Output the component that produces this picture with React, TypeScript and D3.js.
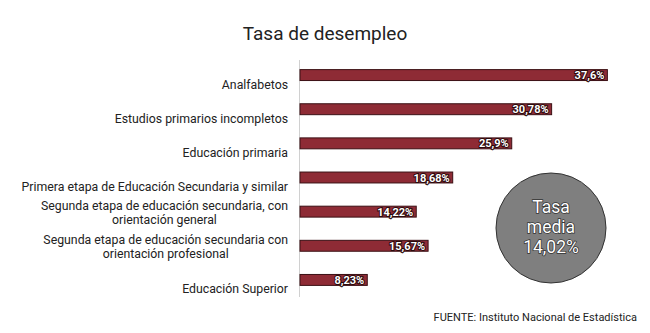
import React from "react";
import * as d3 from "d3";

const categories: string[][] = [
  ["Analfabetos"],
  ["Estudios primarios incompletos"],
  ["Educación primaria"],
  ["Primera etapa de Educación Secundaria y similar"],
  ["Segunda etapa de educación secundaria, con", "orientación general"],
  ["Segunda etapa de educación secundaria con", "orientación profesional"],
  ["Educación Superior"],
];
const values: number[] = [37.6, 30.78, 25.9, 18.68, 14.22, 15.67, 8.23];
const valueLabels: string[] = ["37,6%", "30,78%", "25,9%", "18,68%", "14,22%", "15,67%", "8,23%"];
const averageLines: string[] = ["Tasa", "media", "14,02%"];
const title = "Tasa de desempleo";
const source = "FUENTE: Instituto Nacional de Estadística";

const W = 650;
const H = 333;
const FONT = "Roboto, 'Noto Sans', sans-serif";
const LABEL_SIZE = 12.3;

function measure(text: string, size: number): number {
  if (typeof document === "undefined") return text.length * size * 0.5;
  const c = document.createElement("canvas");
  const ctx = c.getContext("2d");
  if (!ctx) return text.length * size * 0.5;
  ctx.font = `${size}px Roboto`;
  return ctx.measureText(text).width;
}

export default function App() {
  const x = d3.scaleLinear().domain([0, 40]).range([300, 627]);
  const y = d3
    .scaleBand<number>()
    .domain(d3.range(categories.length))
    .range([58, 297])
    .paddingInner(0.68)
    .paddingOuter(0.34);
  const bw = y.bandwidth();
  const labelRight = x(0) - 12;

  return (
    <div style={{ position: "absolute", left: 0, top: 0 }}>
      <svg width={W} height={H} style={{ display: "block", background: "#fff" }}>
        <text x={325} y={40} textAnchor="middle" fontFamily={FONT} fontSize={19} fill="#222">
          {title}
        </text>
        <line x1={x(0) - 0.5} x2={x(0) - 0.5} y1={60} y2={297} stroke="#d0d0d0" strokeWidth={1} />
        {values.map((v, i) => {
          const yy = y(i)!;
          const cy = yy + bw / 2;
          const lines = categories[i];
          const maxW = d3.max(lines, (l) => measure(l, LABEL_SIZE)) || 0;
          const mid = labelRight - maxW / 2;
          return (
            <g key={i}>
              <rect
                x={x(0)}
                y={yy}
                width={x(v) - x(0)}
                height={bw}
                fill="#8e2b35"
                stroke="#3b1014"
                strokeWidth={1}
              />
              <text
                x={x(v) - 3}
                y={cy + 4}
                textAnchor="end"
                fontFamily={FONT}
                fontWeight="bold"
                fontSize={11}
                fill="#fff"
                stroke="#2a0a0c"
                strokeWidth={2}
                paintOrder="stroke"
              >
                {valueLabels[i]}
              </text>
              {lines.length === 1 ? (
                <text x={labelRight} y={cy + 13.5} textAnchor="end" fontFamily={FONT} fontSize={LABEL_SIZE} fill="#222">
                  {lines[0]}
                </text>
              ) : (
                lines.map((l, j) => (
                  <text
                    key={j}
                    x={mid}
                    y={cy - 2 + j * 14}
                    textAnchor="middle"
                    fontFamily={FONT}
                    fontSize={LABEL_SIZE}
                    fill="#222"
                  >
                    {l}
                  </text>
                ))
              )}
            </g>
          );
        })}
        <circle cx={551} cy={228} r={55} fill="#7f7f7f" stroke="#333" strokeWidth={1} />
        {averageLines.map((t, i) => (
          <text
            key={i}
            x={551}
            y={213 + i * 20}
            textAnchor="middle"
            fontFamily={FONT}
            fontSize={17.5}
            fill="#fff"
            stroke="#333"
            strokeWidth={1.5}
            paintOrder="stroke"
          >
            {t}
          </text>
        ))}
        <text x={637} y={321} textAnchor="end" fontFamily={FONT} fontSize={11} fill="#222">
          {source}
        </text>
      </svg>
    </div>
  );
}
